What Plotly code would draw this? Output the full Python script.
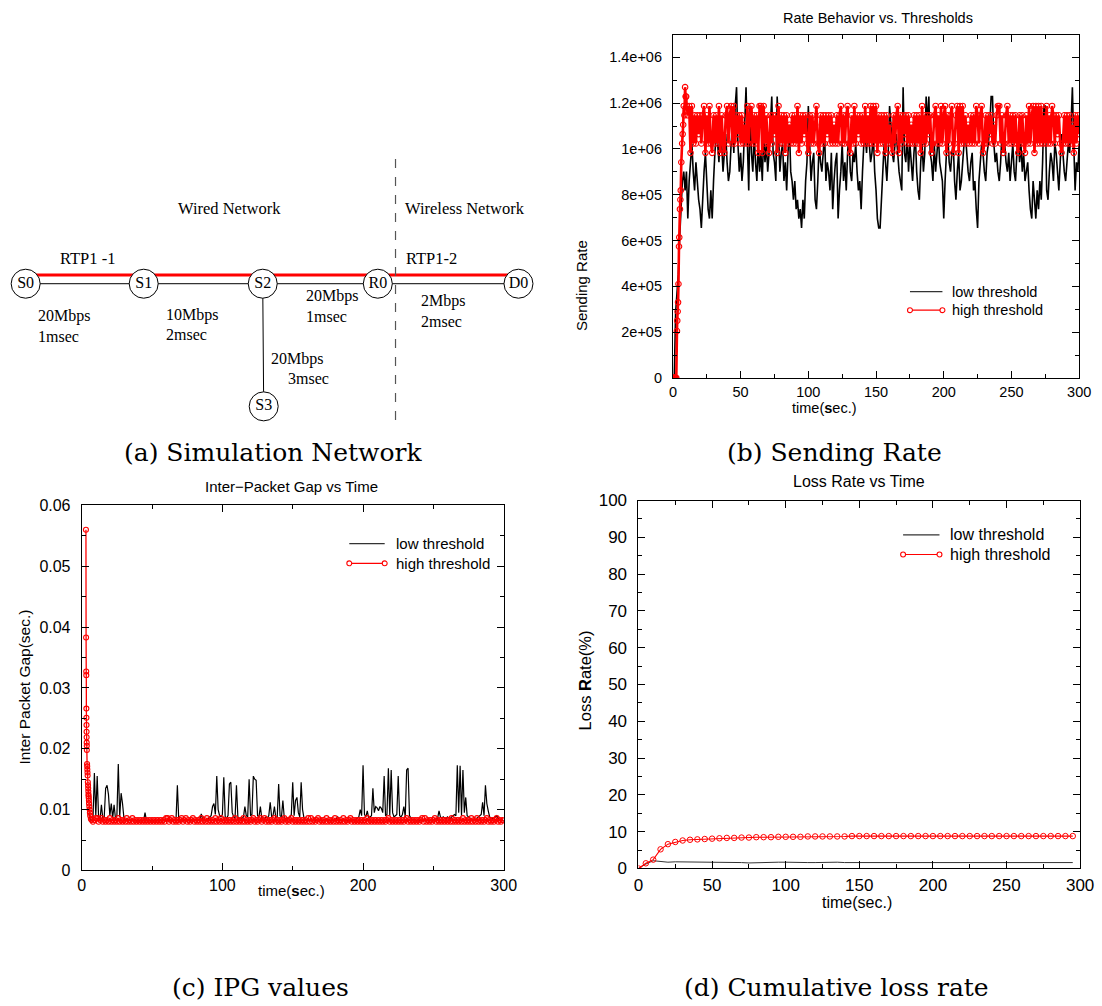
import plotly.graph_objects as go

W, H = 1102, 1006
SANS = "Liberation Sans, Arial, Helvetica, sans-serif"
SERIF = "Liberation Serif, Times New Roman, serif"
CAP = "DejaVu Serif, serif"


def fx(px):
    return px / W


def fy(py):
    return 1 - py / H


# ------------------------------------------------------------------ data
# (a) network diagram
node_names = ["S0", "S1", "S2", "R0", "D0", "S3"]
node_pos = {"S0": (21, 280), "S1": (141, 280), "S2": (262, 280),
            "R0": (379, 280), "D0": (522, 280), "S3": (263, 405)}
links = [("S0", "S1"), ("S1", "S2"), ("S2", "R0"), ("R0", "D0"), ("S2", "S3")]
flow_path = ["S0", "S1", "S2", "R0", "D0"]
link_labels = [("20Mbps", 32, 313), ("1msec", 32, 334),
               ("10Mbps", 162, 312), ("2msec", 162, 332),
               ("20Mbps", 304, 293), ("1msec", 304, 313),
               ("2Mbps", 421, 298), ("2msec", 421, 319),
               ("20Mbps", 268, 357), ("3msec", 286, 377)]

# (b) sending rate (kbit/s), low threshold sampled every 1 s from t=0
rate_low_t0, rate_low_dt = 0, 1
rate_low_k = [
    0, 0, 287, 369, 451, 614, 737, 860, 901, 819,
    901, 696, 860, 942, 1024, 901, 819, 942, 860, 778,
    737, 655, 778, 901, 983, 860, 737, 696, 819, 696,
    860, 983, 1065, 1024, 942, 1106, 1024, 901, 983, 1065,
    942, 860, 901, 1024, 1106, 983, 1188, 1270, 1024, 901,
    983, 860, 942, 1106, 1270, 1024, 819, 1188, 983, 901,
    1065, 942, 860, 1024, 901, 983, 860, 1065, 942, 1024,
    901, 983, 1106, 1229, 983, 942, 860, 1229, 1065, 901,
    983, 1024, 860, 942, 819, 983, 1106, 901, 860, 778,
    860, 737, 778, 696, 737, 655, 778, 696, 860, 942,
    1188, 1024, 860, 942, 983, 778, 737, 860, 1024, 942,
    901, 983, 1065, 860, 942, 901, 819, 983, 737, 860,
    942, 983, 696, 819, 901, 1024, 860, 942, 819, 983,
    1065, 901, 860, 983, 942, 1024, 901, 819, 860, 737,
    901, 1024, 1065, 983, 1106, 1024, 942, 983, 1065, 901,
    819, 696, 655, 655, 778, 901, 1024, 942, 860, 983,
    1188, 1106, 983, 942, 1024, 1065, 983, 901, 860, 819,
    1270, 983, 942, 1065, 901, 1024, 942, 860, 983, 1065,
    901, 819, 778, 942, 1024, 901, 983, 1229, 1106, 1229,
    983, 942, 860, 1024, 901, 983, 1065, 942, 901, 860,
    696, 860, 983, 1065, 942, 901, 983, 1024, 860, 778,
    901, 983, 819, 860, 942, 1024, 1065, 983, 901, 860,
    942, 983, 819, 860, 737, 655, 860, 942, 1024, 983,
    901, 860, 983, 1024, 1106, 1229, 1229, 1024, 942, 983,
    901, 860, 942, 1065, 983, 1024, 942, 901, 983, 860,
    942, 1024, 901, 860, 983, 1065, 942, 1024, 901, 983,
    860, 901, 942, 819, 737, 696, 860, 778, 696, 819,
    737, 860, 778, 942, 1188, 1188, 819, 778, 901, 983,
    942, 860, 1024, 983, 901, 819, 942, 1065, 983, 901,
    860, 942, 1024, 983, 1106, 1270, 1024, 819, 942, 901,
    1024]

# high threshold: start-up ramp (irregular sample times) then 1 s samples
rate_ramp_t = [0, 0.5, 1, 1.5, 2, 2.5, 3.0, 3.2, 3.5, 3.8, 4.1, 4.5, 4.7,
               5.2, 5.5, 5.8, 6.2, 6.8, 7.2, 7.6, 8.0, 8.5, 9.0, 9.4, 9.8, 10.2]
rate_ramp_high_k = [0, 0, 0, 0, 0, 0, 205, 250, 290, 330, 410, 574, 614,
                    737, 778, 819, 942, 1024, 1065, 1106, 1188, 1147, 1270,
                    1229, 1229, 1188]
rate_band_t0, rate_band_dt = 11, 1
rate_band_high_k = [
    1147, 1188, 983, 1188, 1024, 1147, 1024, 1147, 1065, 1147,
    1024, 1147, 1188, 983, 1147, 1024, 1188, 1024, 983, 1147,
    1024, 1147, 1024, 1188, 983, 1147, 1024, 983, 1147, 1188,
    1024, 1147, 1188, 1024, 1188, 1024, 1147, 1065, 1147, 1024,
    1147, 1024, 1106, 1024, 1188, 1024, 1147, 1188, 1024, 1147,
    1024, 1147, 983, 1188, 1188, 983, 1188, 1024, 1147, 1024,
    983, 1147, 1024, 1147, 1065, 1147, 983, 1188, 1024, 1147,
    1024, 1147, 983, 1147, 1024, 1106, 1024, 1147, 1024, 1147,
    1024, 1188, 983, 1147, 1024, 1147, 1065, 1147, 1024, 983,
    1147, 1024, 1147, 1024, 1106, 1188, 1024, 983, 1147, 1024,
    1147, 1024, 1147, 1065, 1147, 1024, 1147, 1024, 1106, 1024,
    1147, 1024, 1147, 1188, 1024, 1147, 1024, 1147, 1188, 1024,
    983, 1147, 1024, 1188, 1024, 1147, 1065, 1147, 1024, 1147,
    1024, 1188, 1024, 1147, 1024, 1188, 1024, 1188, 1024, 1188,
    983, 1147, 1024, 1147, 1024, 1147, 983, 1147, 1024, 1106,
    1024, 983, 1147, 1024, 1147, 1188, 983, 1147, 1024, 1147,
    1065, 1147, 1024, 1147, 1024, 1106, 1024, 1147, 1024, 1147,
    1024, 1147, 983, 1188, 1024, 1147, 1024, 1147, 1065, 1147,
    983, 1024, 1147, 1188, 1024, 1147, 1024, 1188, 1024, 1147,
    1188, 983, 1147, 1024, 1147, 1188, 983, 1024, 1147, 1188,
    983, 1188, 1024, 1188, 1024, 1147, 1024, 1106, 1024, 1147,
    1024, 1147, 1024, 1188, 1147, 1024, 1147, 1188, 983, 1024,
    1147, 1024, 1147, 1065, 1147, 1024, 1106, 1024, 1147, 1188,
    1188, 1024, 1147, 983, 1024, 1147, 1188, 1024, 1147, 1024,
    1147, 1024, 1147, 1024, 983, 1147, 1024, 1147, 1024, 983,
    1147, 1024, 1188, 1024, 1147, 1188, 983, 1188, 1024, 1188,
    1024, 1188, 1024, 1147, 1024, 1188, 1024, 1147, 1024, 1188,
    1147, 1024, 1147, 1065, 1147, 1024, 983, 1024, 1147, 1024,
    1147, 1024, 1147, 1024, 1106, 983, 1147, 1024, 1147, 1065]

# (c) inter-packet gap (ms)
ipg_low_t0, ipg_low_dt = 5, 1
ipg_low_ms = [
    9.5, 8.3, 8.2, 8.5, 16.0, 9.0, 15.5, 8.6, 8.4, 10.8,
    8.5, 8.8, 13.5, 14.0, 12.5, 9.0, 11.0, 8.6, 10.8, 8.5,
    9.0, 17.5, 8.8, 12.7, 11.0, 8.6, 8.3, 8.2, 8.2, 8.2,
    8.2, 8.2, 8.2, 8.2, 8.2, 8.2, 8.2, 8.2, 8.2, 8.2,
    9.5, 8.2, 8.2, 8.2, 8.2, 8.2, 8.2, 8.2, 8.2, 8.2,
    8.2, 8.2, 8.2, 8.2, 8.2, 8.2, 8.2, 8.2, 8.2, 8.2,
    8.2, 8.2, 8.2, 14.0, 8.2, 8.2, 8.2, 8.2, 8.2, 8.2,
    8.2, 8.2, 8.2, 8.2, 8.2, 8.2, 8.2, 8.2, 8.3, 8.4,
    9.3, 8.4, 8.2, 8.2, 8.3, 8.5, 8.8, 9.0, 10.5, 11.0,
    9.2, 15.5, 10.0, 9.0, 8.8, 9.2, 15.3, 8.8, 8.6, 9.0,
    14.2, 14.5, 9.5, 8.8, 8.6, 14.0, 8.8, 8.5, 8.4, 8.6,
    8.8, 10.5, 9.0, 8.8, 15.0, 9.0, 9.2, 15.5, 15.0, 14.8,
    9.0, 8.8, 10.5, 8.6, 8.4, 8.5, 8.8, 8.6, 9.0, 11.2,
    8.8, 9.0, 10.5, 8.6, 8.8, 14.2, 9.0, 8.8, 11.5, 8.6,
    8.5, 8.4, 8.6, 8.8, 9.2, 14.5, 9.0, 11.5, 12.0, 9.5,
    8.8, 14.5, 10.0, 8.6, 8.4, 8.3, 8.2, 8.2, 8.2, 8.2,
    8.2, 8.2, 8.2, 8.2, 8.2, 8.2, 8.2, 8.2, 8.2, 8.2,
    8.2, 8.2, 8.2, 8.2, 8.2, 8.3, 8.5, 8.8, 8.4, 8.2,
    8.2, 8.2, 8.2, 8.2, 8.2, 8.2, 8.2, 8.2, 8.2, 8.3,
    8.4, 8.6, 8.8, 10.0, 9.0, 17.3, 9.2, 8.8, 9.8, 8.6,
    8.8, 9.0, 13.5, 9.5, 10.5, 10.3, 9.8, 10.5, 10.2, 9.5,
    15.5, 9.0, 9.2, 16.8, 9.0, 16.5, 9.5, 8.8, 9.0, 9.2,
    15.5, 9.0, 8.8, 9.2, 10.5, 8.8, 16.5, 16.8, 9.0, 8.6,
    8.4, 8.3, 8.2, 8.2, 8.2, 8.2, 8.2, 8.2, 8.2, 8.2,
    8.2, 8.2, 8.2, 8.2, 8.2, 8.2, 8.3, 8.4, 8.6, 9.8,
    8.8, 8.6, 8.8, 8.6, 8.5, 8.8, 8.6, 8.5, 8.8, 9.0,
    9.2, 9.0, 17.3, 9.5, 17.2, 9.0, 16.5, 9.5, 12.0, 9.0,
    8.8, 8.6, 8.4, 8.3, 8.3, 8.4, 8.6, 8.8, 9.0, 9.2,
    11.2, 9.0, 14.0, 11.0, 9.8, 8.8, 8.6, 8.5, 8.6, 8.8,
    9.0, 8.6, 8.4, 8.3, 8.2, 8.2]

ipg_ramp_t = [3.0, 3.1, 3.2, 3.25, 3.3, 3.35, 3.4, 3.45, 3.5, 3.55,
              3.6, 3.65, 3.8, 3.9, 4.0, 4.1, 4.2, 4.35, 4.5, 4.6,
              4.7, 4.8, 4.9, 5.0, 5.1, 5.2, 5.4, 5.6, 5.8, 6.0, 6.5]
ipg_ramp_high_ms = [56, 38.3, 32.7, 32.1, 26.6, 25.1, 23.9, 22.8, 21.9, 21.0,
                    20.5, 19.8, 17.5, 17.1, 16.6, 16.1, 15.6, 14.5, 14.0, 13.5,
                    13.0, 12.5, 12.2, 11.9, 11.5, 11.0, 10.5, 10.0, 9.5, 9.0, 8.5]
ipg_band_t0, ipg_band_dt = 7, 1
ipg_band_high_ms = [
    8.3, 8.0, 8.3, 8.6, 8.6, 8.0, 8.3, 8.6, 8.0, 8.3,
    8.0, 8.3, 8.0, 8.6, 8.0, 8.3, 8.0, 8.3, 8.0, 8.6,
    8.0, 8.3, 8.0, 8.3, 8.0, 8.6, 8.0, 8.3, 8.0, 8.6,
    8.0, 8.3, 8.0, 8.3, 8.0, 8.3, 8.0, 8.3, 8.0, 8.3,
    8.0, 8.3, 8.0, 8.3, 8.0, 8.3, 8.0, 8.3, 8.0, 8.3,
    8.0, 8.3, 8.0, 8.6, 8.6, 8.0, 8.3, 8.6, 8.0, 8.3,
    8.0, 8.3, 8.0, 8.3, 8.6, 8.0, 8.3, 8.6, 8.0, 8.3,
    8.0, 8.3, 8.6, 8.0, 8.3, 8.0, 8.3, 8.0, 8.6, 8.0,
    8.3, 8.0, 8.6, 8.0, 8.3, 8.0, 8.3, 8.0, 8.6, 8.0,
    8.3, 8.0, 8.6, 8.0, 8.3, 8.0, 8.3, 8.0, 8.3, 8.0,
    8.3, 8.0, 8.6, 8.0, 8.3, 8.0, 8.3, 8.0, 8.6, 8.0,
    8.3, 8.0, 8.3, 8.0, 8.3, 8.6, 8.0, 8.3, 8.0, 8.3,
    8.6, 8.0, 8.3, 8.6, 8.0, 8.3, 8.0, 8.3, 8.0, 8.3,
    8.6, 8.0, 8.3, 8.0, 8.3, 8.0, 8.3, 8.6, 8.0, 8.3,
    8.0, 8.3, 8.6, 8.0, 8.3, 8.0, 8.3, 8.0, 8.3, 8.0,
    8.3, 8.0, 8.3, 8.0, 8.6, 8.0, 8.6, 8.0, 8.3, 8.0,
    8.3, 8.6, 8.0, 8.3, 8.0, 8.3, 8.0, 8.6, 8.0, 8.3,
    8.0, 8.3, 8.0, 8.6, 8.0, 8.3, 8.0, 8.3, 8.0, 8.6,
    8.0, 8.3, 8.0, 8.3, 8.6, 8.0, 8.3, 8.0, 8.3, 8.0,
    8.3, 8.0, 8.3, 8.0, 8.3, 8.0, 8.6, 8.0, 8.3, 8.0,
    8.3, 8.0, 8.3, 8.0, 8.3, 8.0, 8.3, 8.0, 8.3, 8.0,
    8.3, 8.6, 8.0, 8.3, 8.0, 8.3, 8.0, 8.3, 8.0, 8.3,
    8.0, 8.3, 8.0, 8.3, 8.6, 8.0, 8.3, 8.0, 8.3, 8.0,
    8.3, 8.0, 8.3, 8.0, 8.3, 8.6, 8.0, 8.6, 8.0, 8.3,
    8.0, 8.3, 8.0, 8.3, 8.6, 8.0, 8.3, 8.0, 8.3, 8.0,
    8.3, 8.0, 8.3, 8.0, 8.3, 8.0, 8.6, 8.0, 8.3, 8.0,
    8.3, 8.0, 8.3, 8.0, 8.6, 8.0, 8.3, 8.0, 8.3, 8.0,
    8.6, 8.0, 8.3, 8.0, 8.6, 8.0, 8.3, 8.0, 8.3, 8.0,
    8.3, 8.6, 8.0, 8.3, 8.0, 8.3, 8.0, 8.3, 8.6, 8.0,
    8.3, 8.0, 8.3, 8.2]

# (d) cumulative loss rate (%), sampled every 5 s
loss_t0, loss_dt = 0, 5
loss_low = [0, 1.2, 2.1, 1.8, 1.7, 1.8, 1.8, 1.7, 1.6, 1.6,
            1.7, 1.7, 1.6, 1.6, 1.6, 1.5, 1.6, 1.6, 1.7, 1.7,
            1.7, 1.6, 1.6, 1.6, 1.6, 1.7, 1.7, 1.7, 1.6, 1.6,
            1.7, 1.7, 1.6, 1.6, 1.5, 1.6, 1.6, 1.6, 1.6, 1.6,
            1.6, 1.6, 1.6, 1.6, 1.6, 1.6, 1.6, 1.6, 1.6, 1.6,
            1.6, 1.6, 1.6, 1.6, 1.6, 1.6, 1.6, 1.6, 1.6, 1.6]
loss_high = [0, 1.4, 2.4, 5.2, 6.6, 7.2, 7.6, 7.8, 7.9, 8.0,
             8.1, 8.2, 8.3, 8.3, 8.4, 8.4, 8.5, 8.5, 8.5, 8.6,
             8.6, 8.6, 8.6, 8.7, 8.7, 8.7, 8.7, 8.7, 8.7, 8.8,
             8.8, 8.8, 8.8, 8.8, 8.8, 8.8, 8.8, 8.8, 8.8, 8.8,
             8.8, 8.8, 8.8, 8.8, 8.8, 8.8, 8.8, 8.8, 8.8, 8.8,
             8.8, 8.8, 8.8, 8.8, 8.8, 8.8, 8.8, 8.8, 8.8, 8.8]

series_names = ["low threshold", "high threshold"]
rate_ticks = [0, 2e5, 4e5, 6e5, 8e5, 1e6, 1.2e6, 1.4e6]
rate_tick_text = ["0", "2e+05", "4e+05", "6e+05", "8e+05", "1e+06", "1.2e+06", "1.4e+06"]
ipg_ticks = [0, 0.01, 0.02, 0.03, 0.04, 0.05, 0.06]
ipg_tick_text = ["0", "0.01", "0.02", "0.03", "0.04", "0.05", "0.06"]


def times(t0, dt, n):
    return [t0 + i * dt for i in range(n)]


# ------------------------------------------------------------------ figure
RED = "#ff0000"
fig = go.Figure()

# --- (a) diagram on a hidden pixel-like axis
lx, ly = [], []
for a, b in links:
    lx += [node_pos[a][0], node_pos[b][0], None]
    ly += [node_pos[a][1], node_pos[b][1], None]
fig.add_trace(go.Scatter(x=lx, y=ly, mode="lines", line=dict(color="black", width=1),
                         xaxis="x4", yaxis="y4", showlegend=False, hoverinfo="skip"))
fig.add_trace(go.Scatter(x=[node_pos[n][0] for n in flow_path],
                         y=[node_pos[n][1] - 9 for n in flow_path],
                         mode="lines", line=dict(color=RED, width=3),
                         xaxis="x4", yaxis="y4", showlegend=False, hoverinfo="skip"))
fig.add_trace(go.Scatter(x=[node_pos[n][0] for n in node_names],
                         y=[node_pos[n][1] for n in node_names],
                         mode="markers+text", text=node_names, textposition="middle center",
                         textfont=dict(family=SERIF, size=16, color="black"),
                         marker=dict(size=29, color="white", line=dict(color="black", width=1)),
                         xaxis="x4", yaxis="y4", showlegend=False, hoverinfo="skip"))

# --- (b) sending rate
fig.add_trace(go.Scatter(x=times(rate_low_t0, rate_low_dt, len(rate_low_k)),
                         y=[v * 1000 for v in rate_low_k], mode="lines",
                         line=dict(color="black", width=1.6, simplify=False), name=series_names[0],
                         xaxis="x", yaxis="y", showlegend=False))
fig.add_trace(go.Scatter(x=rate_ramp_t + times(rate_band_t0, rate_band_dt, len(rate_band_high_k)),
                         y=[v * 1000 for v in rate_ramp_high_k + rate_band_high_k],
                         mode="lines+markers", line=dict(color=RED, width=2.6, simplify=False),
                         marker=dict(symbol="circle-open", size=5.5, color=RED, line=dict(width=1.1)),
                         name=series_names[1], xaxis="x", yaxis="y", showlegend=False))

# --- (c) IPG
fig.add_trace(go.Scatter(x=times(ipg_low_t0, ipg_low_dt, len(ipg_low_ms)),
                         y=[v / 1000 for v in ipg_low_ms], mode="lines",
                         line=dict(color="black", width=1.2, simplify=False), name=series_names[0],
                         xaxis="x2", yaxis="y2", showlegend=False))
fig.add_trace(go.Scatter(x=ipg_ramp_t + times(ipg_band_t0, ipg_band_dt, len(ipg_band_high_ms)),
                         y=[v / 1000 for v in ipg_ramp_high_ms + ipg_band_high_ms],
                         mode="lines+markers", line=dict(color=RED, width=1.3, simplify=False),
                         marker=dict(symbol="circle-open", size=5, color=RED, line=dict(width=1.1)),
                         name=series_names[1], xaxis="x2", yaxis="y2", showlegend=False))

# --- (d) loss rate
fig.add_trace(go.Scatter(x=times(loss_t0, loss_dt, len(loss_low)), y=loss_low, mode="lines",
                         line=dict(color="#333333", width=1), name=series_names[0],
                         xaxis="x3", yaxis="y3", showlegend=False))
fig.add_trace(go.Scatter(x=times(loss_t0, loss_dt, len(loss_high)), y=loss_high,
                         mode="lines+markers", line=dict(color=RED, width=1.1),
                         marker=dict(symbol="circle-open", size=5.5, color=RED, line=dict(width=1)),
                         name=series_names[1], xaxis="x3", yaxis="y3", showlegend=False))


def ax(domain, rng, fsize, minor_dtick, standoff, **kw):
    d = dict(domain=domain, range=rng, showline=True, linecolor="black", linewidth=1,
             mirror="allticks", ticks="inside", ticklen=7, tickwidth=1, tickcolor="black",
             showgrid=False, zeroline=False, ticklabelstandoff=standoff,
             tickfont=dict(family=SANS, size=fsize, color="black"),
             minor=dict(ticks="inside", ticklen=4, tickwidth=1, tickcolor="black",
                        tickmode="linear", tick0=0, dtick=minor_dtick, showgrid=False))
    d.update(kw)
    return d


layout = dict(
    width=W, height=H, margin=dict(l=0, r=0, t=0, b=0),
    paper_bgcolor="white", plot_bgcolor="white", showlegend=False,
    xaxis=ax([fx(679), fx(1092)], [0, 300], 14.5, 25, 1, anchor="y", tickmode="linear", tick0=0, dtick=50),
    yaxis=ax([fy(376), fy(26)], [0, 1.5e6], 14.5, 1e5, 7, anchor="x", tickmode="array",
             tickvals=rate_ticks, ticktext=rate_tick_text),
    xaxis2=ax([fx(78), fx(507)], [0, 300], 16, 50, 0, anchor="y2", tickmode="linear", tick0=0, dtick=100),
    yaxis2=ax([fy(878), fy(506)], [0, 0.06], 16, 0.005, 7, anchor="x2", tickmode="array",
              tickvals=ipg_ticks, ticktext=ipg_tick_text),
    xaxis3=ax([fx(644), fx(1093)], [0, 300], 17, 25, 1, anchor="y3", tickmode="linear", tick0=0, dtick=50),
    yaxis3=ax([fy(876), fy(501)], [0, 100], 17, 5, 7, anchor="x3", tickmode="linear", tick0=0, dtick=10),
    xaxis4=dict(domain=[0, fx(560)], range=[0, 560], visible=False, anchor="y4"),
    yaxis4=dict(domain=[fy(440), fy(140)], range=[440, 140], visible=False, anchor="x4"),
)
fig.update_layout(**layout)

ann = []


def text(t, x, y, size, family=SANS, xanchor="center", angle=0, ref="paper"):
    if ref == "paper":
        a = dict(x=fx(x), y=fy(y), xref="paper", yref="paper")
    else:
        a = dict(x=x, y=y, xref="x4", yref="y4")
    a.update(text=t, showarrow=False, xanchor=xanchor, yanchor="middle", textangle=angle,
             font=dict(family=family, size=size, color="black"))
    ann.append(a)


# diagram labels
text("Wired Network", 228, 203, 16.5, SERIF, ref="x4")
text("Wireless Network", 468, 203, 16.5, SERIF, ref="x4")
text("RTP1 -1", 84, 254, 16.5, SERIF, ref="x4")
text("RTP1-2", 434, 254, 16.5, SERIF, ref="x4")
for lab, x, y in link_labels:
    text(lab, x, y, 16, SERIF, xanchor="left", ref="x4")

# titles and axis labels
text("Rate Behavior vs. Thresholds", 888, 9, 14.5)
text("Sending Rate", 586, 282, 15, angle=-90)
text("time(<b>s</b>ec.)", 833, 407, 14.5)
text("Inter\u2212Packet Gap vs Time", 291, 487, 15)
text("Inter Packet Gap(sec.)", 20, 691, 15.5, angle=-90)
text("time(<b>s</b>ec.)", 291, 898, 15)
text("Loss Rate vs Time", 868, 482, 16)
text("Loss <b>R</b>ate(%)", 590, 684, 16.5, angle=-90)
text("time(sec.)", 866, 911, 16)

# captions
text("(a) Simulation Network", 272, 452, 25, CAP)
text("(b) Sending Rate", 843, 452, 25, CAP)
text("(c) IPG values", 260, 997, 25, CAP)
text("(d) Cumulative loss rate", 845, 997, 25, CAP)

shapes = [dict(type="line", xref="x4", yref="y4", x0=397, x1=397, y0=153, y1=425,
               line=dict(color="#555555", width=1.2, dash="dash"))]


def legend(x0, x1, xt, y_low, y_high, size):
    shapes.append(dict(type="line", xref="paper", yref="paper", x0=fx(x0), x1=fx(x1),
                       y0=fy(y_low), y1=fy(y_low), line=dict(color="#333333", width=1.2)))
    shapes.append(dict(type="line", xref="paper", yref="paper", x0=fx(x0), x1=fx(x1),
                       y0=fy(y_high), y1=fy(y_high), line=dict(color=RED, width=1.2)))
    for xc in (x0, x1):
        shapes.append(dict(type="circle", xref="paper", yref="paper",
                           x0=fx(xc - 2.5), x1=fx(xc + 2.5), y0=fy(y_high + 2.5), y1=fy(y_high - 2.5),
                           line=dict(color=RED, width=1.1), fillcolor="white"))
    text(series_names[0], xt, y_low, size, xanchor="left")
    text(series_names[1], xt, y_high, size, xanchor="left")


legend(920, 953, 961, 288, 307, 14.5)
legend(350, 386, 395, 545, 565, 15)
legend(913, 950, 959, 536, 556, 16)

fig.update_layout(annotations=ann, shapes=shapes)
fig.write_html("out.html", config={"displayModeBar": False},
               post_script="document.body.style.margin='0';document.body.style.overflow='hidden';")
